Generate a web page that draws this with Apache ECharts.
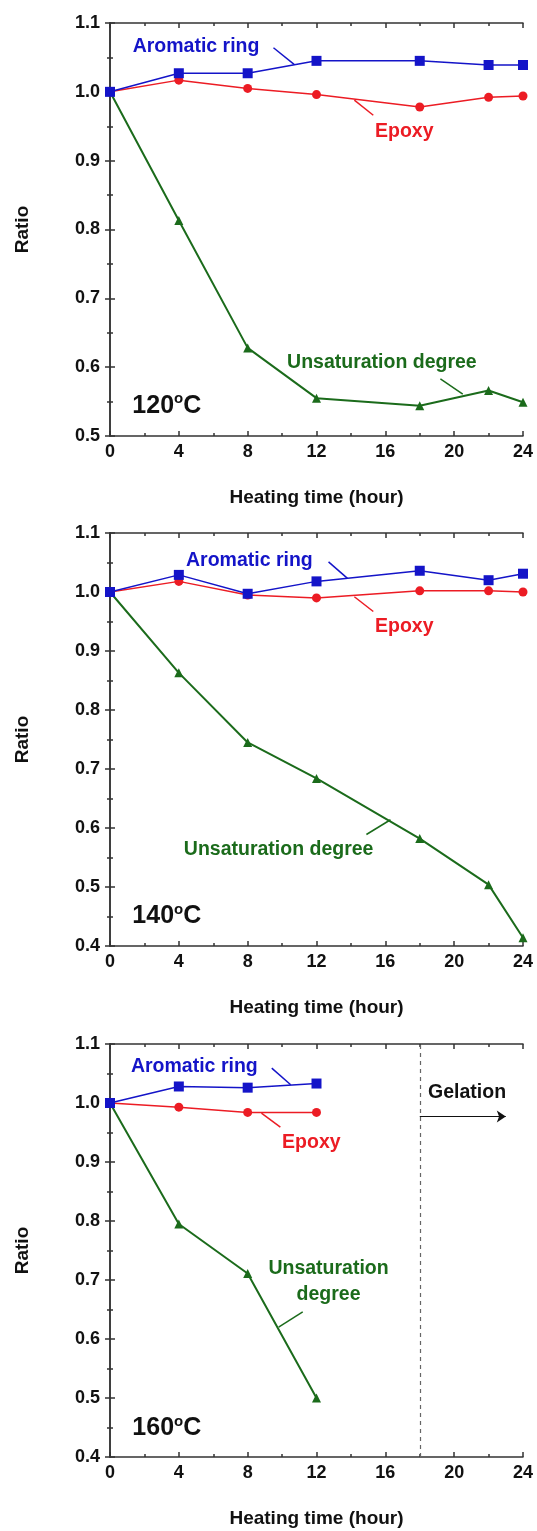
<!DOCTYPE html>
<html>
<head>
<meta charset="utf-8">
<script src="https://cdn.jsdelivr.net/npm/echarts@6/dist/echarts.min.js"></script>
<style>
html, body { margin: 0; padding: 0; background: #fff; }
#main { width: 537px; height: 1531px; }
</style>
</head>
<body>
<div id="main"></div>
<script>
// data
var hours = [0, 4, 8, 12, 18, 22, 24];
var hours160 = [0, 4, 8, 12];
var aromatic120 = [1.000, 1.027, 1.027, 1.045, 1.045, 1.039, 1.039];
var epoxy120 = [1.000, 1.017, 1.005, 0.996, 0.978, 0.992, 0.994];
var unsat120 = [1.000, 0.813, 0.628, 0.555, 0.544, 0.566, 0.549];
var aromatic140 = [1.000, 1.029, 0.997, 1.018, 1.036, 1.020, 1.031];
var epoxy140 = [1.000, 1.018, 0.995, 0.990, 1.002, 1.002, 1.000];
var unsat140 = [1.000, 0.863, 0.745, 0.684, 0.582, 0.504, 0.414];
var aromatic160 = [1.000, 1.028, 1.026, 1.033];
var epoxy160 = [1.000, 0.993, 0.984, 0.984];
var unsat160 = [1.000, 0.795, 0.711, 0.500];
var temps = ['120', '140', '160'];
var yMins = [0.5, 0.4, 0.4];
var gelationHour = 18;

var BLUE = '#1414c8', RED = '#ec1c24', GREEN = '#1b6b1b';
var FONT = '"Liberation Sans", Arial, sans-serif';
var gridTops = [23, 533, 1044];

// annotation anchors, in data units of each panel
var notes = [
  { arom: [5.0, 1.065], aromL: [[9.5, 1.064], [10.7, 1.040]],
    epoxy: [17.1, 0.942], epoxyL: [[14.2, 0.988], [15.3, 0.966]],
    unsat: [15.8, 0.606], unsatL: [[19.2, 0.583], [20.5, 0.561]],
    unsatText: 'Unsaturation degree', temp: [3.3, 0.544] },
  { arom: [8.1, 1.053], aromL: [[12.7, 1.051], [13.8, 1.023]],
    epoxy: [17.1, 0.941], epoxyL: [[14.2, 0.992], [15.3, 0.967]],
    unsat: [9.8, 0.563], unsatL: [[14.9, 0.589], [16.3, 0.614]],
    unsatText: 'Unsaturation degree', temp: [3.3, 0.450] },
  { arom: [4.9, 1.062], aromL: [[9.4, 1.059], [10.5, 1.031]],
    epoxy: [11.7, 0.933], epoxyL: [[8.8, 0.983], [9.9, 0.959]],
    unsat: [12.7, 0.698], unsatL: [[11.2, 0.646], [9.8, 0.620]],
    unsatText: 'Unsaturation\ndegree', temp: [3.3, 0.449] }
];

function zip(xs, ys) {
  return xs.map(function (x, i) { return [x, ys[i]]; });
}

function textPoint(coord, text, color) {
  return {
    coord: coord,
    label: { show: true, position: 'inside', formatter: text, color: color,
      fontSize: 19.5, fontWeight: 'bold', fontFamily: FONT, lineHeight: 26 }
  };
}

function leader(pts, color) {
  return {
    silent: true, symbol: ['none', 'none'], animation: false,
    label: { show: false },
    lineStyle: { color: color, width: 1.5, type: 'solid' },
    data: [[{ coord: pts[0] }, { coord: pts[1] }]]
  };
}

var grids = [], xAxes = [], yAxes = [], series = [];
var tickStyle = { color: '#333', width: 1.5 };
var labelFont = { fontSize: 18, fontWeight: 'bold', color: '#111', fontFamily: FONT };
var nameFont = { fontSize: 19, fontWeight: 'bold', color: '#111', fontFamily: FONT };

// each side gets a major axis (long ticks) and an overlaid minor one (short ticks)
function sideAxes(p, min, max, major, minor, pos) {
  var base = {
    type: 'value', gridIndex: p, min: min, max: max, position: pos,
    splitLine: { show: false }, axisLabel: { show: false }
  };
  var maj = Object.assign({}, base, {
    interval: major,
    axisLine: { show: true, lineStyle: { color: '#333', width: 1.5 } },
    axisTick: { show: true, inside: true, length: 5, lineStyle: tickStyle }
  });
  var mnr = Object.assign({}, base, {
    interval: minor,
    axisLine: { show: false },
    axisTick: { show: true, inside: true, length: 3, lineStyle: tickStyle }
  });
  return [maj, mnr];
}

for (var p = 0; p < 3; p++) {
  grids.push({ left: 110, top: gridTops[p], width: 413, height: 413 });

  var xb = sideAxes(p, 0, 24, 4, 2, 'bottom');
  Object.assign(xb[0], {
    name: 'Heating time (hour)', nameLocation: 'middle', nameGap: 52, nameTextStyle: nameFont,
    axisLabel: Object.assign({ show: true, margin: 7 }, labelFont)
  });
  var xt = sideAxes(p, 0, 24, 4, 2, 'top');
  xAxes.push(xb[0], xb[1], xt[0], xt[1]);

  var yl = sideAxes(p, yMins[p], 1.1, 0.1, 0.05, 'left');
  Object.assign(yl[0], {
    name: 'Ratio', nameLocation: 'middle', nameGap: 78, nameTextStyle: nameFont,
    axisLabel: Object.assign({ show: true, margin: 10,
      formatter: function (v) { return v.toFixed(1); } }, labelFont)
  });
  var yr = sideAxes(p, yMins[p], 1.1, 0.1, 0.05, 'right');
  yAxes.push(yl[0], yl[1], yr[0], yr[1]);
}

var panelData = [
  [hours, aromatic120, epoxy120, unsat120],
  [hours, aromatic140, epoxy140, unsat140],
  [hours160, aromatic160, epoxy160, unsat160]
];

panelData.forEach(function (d, p) {
  var n = notes[p];
  var common = { type: 'line', xAxisIndex: p * 4, yAxisIndex: p * 4, animation: false };
  series.push(Object.assign({}, common, {
    name: 'Aromatic ring', data: zip(d[0], d[1]), symbol: 'rect', symbolSize: 10,
    itemStyle: { color: BLUE }, lineStyle: { color: BLUE, width: 1.5 }, z: 4,
    markLine: leader(n.aromL, BLUE),
    markPoint: { symbol: 'circle', symbolSize: 0, silent: true, animation: false,
      data: [textPoint(n.arom, 'Aromatic ring', BLUE)] }
  }));
  var epoxyPoints = [
    textPoint(n.epoxy, 'Epoxy', RED),
    {
      coord: n.temp,
      label: { show: true, position: 'inside', color: '#111', fontFamily: FONT,
        formatter: '{a|' + temps[p] + '}{s|o}{a|C}',
        rich: {
          a: { fontSize: 25, fontWeight: 'bold', fontFamily: FONT, color: '#111', lineHeight: 28 },
          s: { fontSize: 15, fontWeight: 'bold', fontFamily: FONT, color: '#111',
            verticalAlign: 'top', lineHeight: 15, padding: [0, 0, 6, 0] }
        } }
    }
  ];
  series.push(Object.assign({}, common, {
    name: 'Epoxy', data: zip(d[0], d[2]), symbol: 'circle', symbolSize: 9,
    itemStyle: { color: RED }, lineStyle: { color: RED, width: 1.5 }, z: 3,
    markLine: leader(n.epoxyL, RED),
    markPoint: { symbol: 'circle', symbolSize: 0, silent: true, animation: false, data: epoxyPoints }
  }));
  series.push(Object.assign({}, common, {
    name: 'Unsaturation degree', data: zip(d[0], d[3]), symbol: 'triangle', symbolSize: 9,
    itemStyle: { color: GREEN }, lineStyle: { color: GREEN, width: 2 }, z: 2,
    markLine: leader(n.unsatL, GREEN),
    markPoint: { symbol: 'circle', symbolSize: 0, silent: true, animation: false,
      data: [textPoint(n.unsat, n.unsatText, GREEN)] }
  }));
});

// gelation marker on the 160 C panel
series.push({
  type: 'line', xAxisIndex: 8, yAxisIndex: 8, data: [], animation: false, silent: true,
  markLine: {
    silent: true, animation: false, symbol: ['none', 'none'], label: { show: false },
    lineStyle: { color: '#666', width: 1.2, type: [4, 4] },
    data: [{ xAxis: gelationHour }]
  },
  markPoint: { symbol: 'circle', symbolSize: 0, silent: true, animation: false,
    data: [textPoint([20.75, 1.0175], 'Gelation', '#111')] }
});
series.push({
  type: 'line', xAxisIndex: 8, yAxisIndex: 8, data: [], animation: false, silent: true,
  markLine: {
    silent: true, animation: false, symbol: ['none', 'arrow'], symbolSize: 9,
    label: { show: false },
    lineStyle: { color: '#111', width: 1.2, type: 'solid' },
    data: [[{ coord: [gelationHour, 0.977] }, { coord: [23.0, 0.977] }]]
  }
});

var myChart = echarts.init(document.getElementById('main'));
myChart.setOption({
  backgroundColor: '#fff',
  animation: false,
  grid: grids,
  xAxis: xAxes,
  yAxis: yAxes,
  series: series
});
</script>
</body>
</html>
